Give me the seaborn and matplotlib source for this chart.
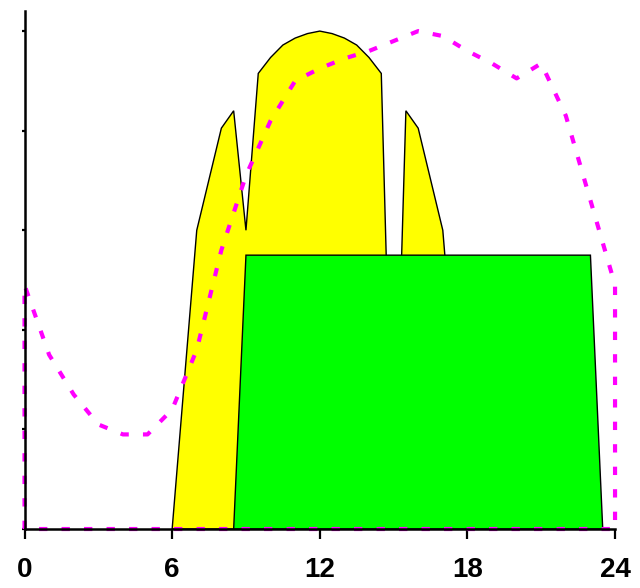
import matplotlib
matplotlib.use("Agg")
import matplotlib.pyplot as plt
import pandas as pd
import seaborn as sns

# Hourly demand profile (closed outline down to zero at both ends)
demand_hours = list(range(25))
demand = [0.49, 0.35, 0.27, 0.21, 0.19, 0.19, 0.24, 0.36, 0.56, 0.71, 0.82,
          0.90, 0.925, 0.945, 0.96, 0.98, 1.0, 0.99, 0.96, 0.935, 0.905,
          0.935, 0.83, 0.66, 0.49]

# Solar generation profile
solar_hours = [6, 7, 8, 8.5, 9, 9.5, 10, 10.5, 11, 11.5, 12, 12.5, 13, 13.5,
               14, 14.5, 15, 15.5, 16, 17, 18]
solar = [0, 0.60, 0.805, 0.84, 0.60, 0.915, 0.947, 0.972, 0.986, 0.995, 1.0,
         0.995, 0.986, 0.972, 0.947, 0.915, 0, 0.84, 0.805, 0.60, 0]

# Flat base block
block_hours = [8.5, 9, 23, 23.5]
block = [0, 0.55, 0.55, 0]

x_ticks = [0, 6, 12, 18, 24]
y_ticks = [0, 0.2, 0.4, 0.6, 0.8, 1.0]

sns.set_style("ticks")
plt.rcParams["font.family"] = ["Liberation Sans", "DejaVu Sans"]

fig = plt.figure(figsize=(6.4, 5.88), dpi=100)
ax = fig.add_axes([0.0383, 0.1003, 0.9227, 0.8807])

ax.fill(solar_hours, solar, facecolor="#FFFF00", edgecolor="black",
        linewidth=1.0, zorder=2)
ax.fill(block_hours, block, facecolor="#00FF00", edgecolor="black",
        linewidth=1.0, zorder=3)

outline = pd.DataFrame({
    "hour": [0] + demand_hours + [24, 0],
    "load": [0] + demand + [0, 0],
})
sns.lineplot(data=outline, x="hour", y="load", sort=False, estimator=None,
             color="#FF00FF", linewidth=3.0, ax=ax, zorder=4, clip_on=False)
ax.lines[-1].set_linestyle((0, (2.0, 3.4)))

ax.set_xlim(0, 24)
ax.set_ylim(0, 1.04)
ax.set_xticks(x_ticks)
ax.set_xticklabels([str(t) for t in x_ticks], fontsize=20, fontweight="bold")
ax.set_yticks(y_ticks)
ax.set_yticklabels([])
ax.set_xlabel("")
ax.set_ylabel("")

ax.tick_params(axis="x", direction="out", length=7.5, width=1.6, pad=13,
               color="black", labelcolor="black")
ax.tick_params(axis="y", direction="out", length=2.5, width=1.6,
               color="black")
for side in ("top", "right"):
    ax.spines[side].set_visible(False)
for side in ("left", "bottom"):
    ax.spines[side].set_linewidth(1.8)
    ax.spines[side].set_color("black")
    ax.spines[side].set_zorder(5)

fig.savefig("out.png", dpi=100, facecolor="white")
